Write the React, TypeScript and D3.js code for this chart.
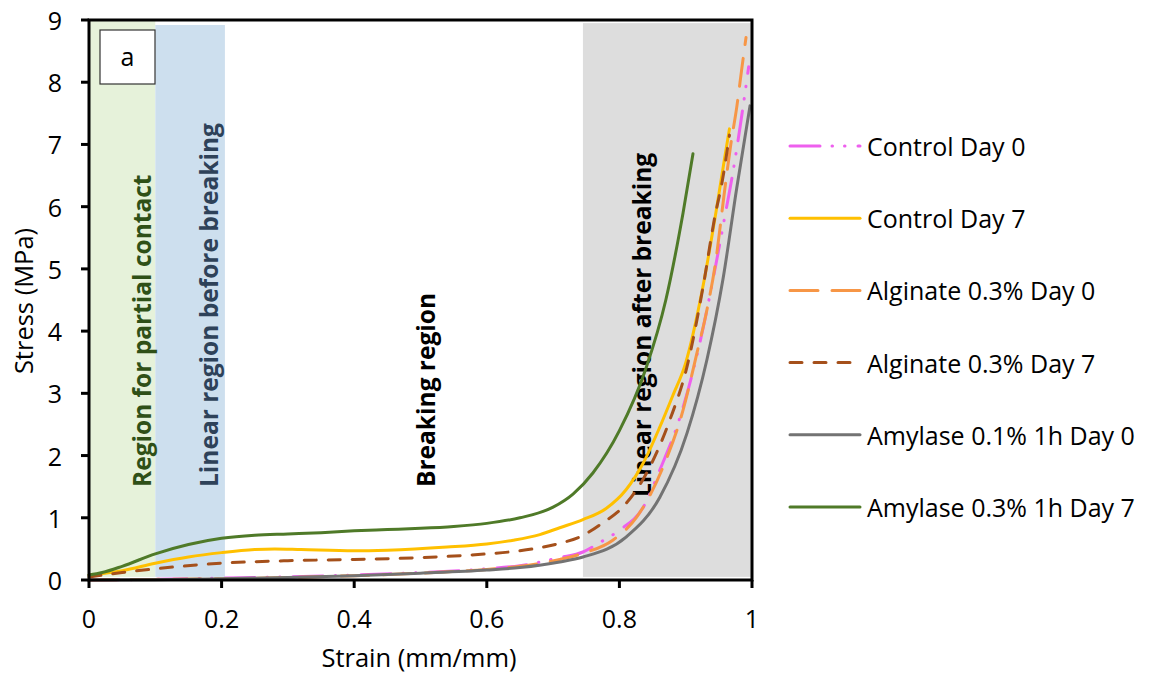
import React from 'react';
import * as d3 from 'd3';

// strain (mm/mm) / stress (MPa) readings per sample
const controlDay0 = [
  [0, 0], [0.1, 0.01], [0.2, 0.03], [0.3, 0.05], [0.4, 0.08], [0.5, 0.12], [0.6, 0.18],
  [0.65, 0.23], [0.71, 0.36], [0.745, 0.45], [0.77, 0.6], [0.8, 0.8], [0.836, 1.17],
  [0.861, 1.77], [0.89, 2.57], [0.92, 3.75], [0.941, 4.82], [0.959, 5.84], [0.971, 6.54],
  [0.982, 7.28], [0.995, 8.25],
];
const controlDay7 = [
  [0, 0.08], [0.05, 0.15], [0.1, 0.27], [0.15, 0.37], [0.2, 0.44], [0.25, 0.49], [0.28, 0.5],
  [0.32, 0.49], [0.4, 0.47], [0.45, 0.48], [0.54, 0.53], [0.6, 0.58], [0.64, 0.64],
  [0.68, 0.73], [0.71, 0.84], [0.745, 0.97], [0.78, 1.15], [0.81, 1.45], [0.836, 1.88],
  [0.861, 2.46], [0.88, 2.95], [0.9, 3.49], [0.925, 4.66], [0.947, 6.0], [0.959, 6.8],
  [0.966, 7.25],
];
const alginateDay0 = [
  [0, 0], [0.1, 0.01], [0.2, 0.02], [0.3, 0.04], [0.4, 0.07], [0.5, 0.11], [0.6, 0.17],
  [0.65, 0.22], [0.71, 0.33], [0.745, 0.43], [0.79, 0.64], [0.826, 1.01], [0.866, 1.82],
  [0.896, 2.73], [0.917, 3.65], [0.932, 4.34], [0.945, 5.1], [0.958, 6.2], [0.968, 7.0],
  [0.977, 7.6], [0.985, 8.25], [0.991, 8.72],
];
const alginateDay7 = [
  [0, 0.05], [0.05, 0.12], [0.1, 0.18], [0.2, 0.27], [0.3, 0.31], [0.4, 0.33], [0.5, 0.36],
  [0.6, 0.42], [0.65, 0.47], [0.71, 0.59], [0.74, 0.69], [0.775, 0.92], [0.805, 1.17],
  [0.846, 1.82], [0.876, 2.57], [0.902, 3.43], [0.926, 4.7], [0.944, 5.84], [0.955, 6.4],
  [0.966, 7.15],
];
const amylase01Day0 = [
  [0, 0], [0.1, 0.005], [0.2, 0.02], [0.3, 0.04], [0.4, 0.07], [0.5, 0.11], [0.6, 0.16],
  [0.65, 0.2], [0.71, 0.29], [0.745, 0.37], [0.81, 0.69], [0.861, 1.33], [0.902, 2.36],
  [0.932, 3.54], [0.956, 4.82], [0.977, 6.3], [0.997, 7.62],
];
const amylase03Day7 = [
  [0, 0.08], [0.02, 0.12], [0.05, 0.22], [0.1, 0.42], [0.15, 0.57], [0.2, 0.67], [0.25, 0.72],
  [0.3, 0.74], [0.35, 0.76], [0.4, 0.79], [0.45, 0.81], [0.5, 0.83], [0.55, 0.86], [0.6, 0.91],
  [0.65, 1.0], [0.7, 1.17], [0.73, 1.38], [0.76, 1.72], [0.8, 2.4], [0.84, 3.4], [0.87, 4.5],
  [0.896, 5.9], [0.911, 6.85],
];

const seriesNames = [
  'Control Day 0', 'Control Day 7', 'Alginate 0.3% Day 0',
  'Alginate 0.3% Day 7', 'Amylase 0.1% 1h Day 0', 'Amylase 0.3% 1h Day 7',
];
const seriesData = [controlDay0, controlDay7, alginateDay0, alginateDay7, amylase01Day0, amylase03Day7];

// shaded regions: [from strain, to strain, top stress]
const regionSpans = [[0, 0.1, 9], [0.1, 0.205, 8.92], [0.745, 1, 8.95]];
const regionLabels = [
  'Region for partial contact', 'Linear region before breaking',
  'Breaking region', 'Linear region after breaking',
];
const regionLabelX = [0.079, 0.18, 0.507, 0.833];

const xTicks = [0, 0.2, 0.4, 0.6, 0.8, 1];
const yTicks = [0, 1, 2, 3, 4, 5, 6, 7, 8, 9];

const seriesStyle = [
  { color: '#EE5FEE', dash: '30,12,0.5,12,0.5,13' },
  { color: '#FFC000', dash: null },
  { color: '#F79646', dash: '28,14' },
  { color: '#A5501B', dash: '12,12' },
  { color: '#737373', dash: null },
  { color: '#4F7A28', dash: null },
];
const regionFill = ['#E6F2DA', '#CDDFEE', '#DDDDDD'];
const regionText = ['#2F5017', '#2E4259', '#000000', '#000000'];

const FONT = '"Open Sans", sans-serif';

const App = () => {
  const width = 1151;
  const height = 675;
  const x = d3.scaleLinear().domain([0, 1]).range([89, 752]);
  const y = d3.scaleLinear().domain([0, 9]).range([580, 20]);

  const line = d3.line<number[]>()
    .x(d => x(d[0]))
    .y(d => y(d[1]))
    .curve(d3.curveMonotoneX);

  const legendX = 790;
  const legendY = (i: number) => 146 + i * 72.2;

  return (
    <svg width={width} height={height} style={{ position: 'absolute', left: 0, top: 0, background: '#fff' }}
      fontFamily={FONT}>
      {/* shaded regions */}
      {regionSpans.map((r, i) => (
        <rect key={i} x={x(r[0])} y={y(r[2])} width={x(r[1]) - x(r[0])}
          height={y(0.05) - y(r[2])} fill={regionFill[i]} />
      ))}

      {/* region labels */}
      {regionLabels.map((t, i) => (
        <text key={t} transform={`translate(${x(regionLabelX[i])},${i === 3 ? 497 : 487}) rotate(-90)`}
          fontSize={24.5} fontWeight="bold" fill={regionText[i]} dominantBaseline="central">{t}</text>
      ))}

      {/* series */}
      {seriesData.map((s, i) => (
        <path key={seriesNames[i]} d={line(s) ?? ''} fill="none" stroke={seriesStyle[i].color}
          strokeWidth={3} strokeLinecap="round" strokeLinejoin="round"
          strokeDasharray={seriesStyle[i].dash ?? undefined} />
      ))}

      {/* frame */}
      <rect x={x(0)} y={y(9)} width={x(1) - x(0)} height={y(0) - y(9)} fill="none" stroke="#000" strokeWidth={3} />

      {/* y axis */}
      {yTicks.map(t => (
        <g key={t}>
          <line x1={x(0) - 8} x2={x(0)} y1={y(t)} y2={y(t)} stroke="#000" strokeWidth={3} />
          <text x={62} y={y(t)} textAnchor="end" dominantBaseline="central" fontSize={25}>{t}</text>
        </g>
      ))}
      {/* x axis */}
      {xTicks.map(t => (
        <g key={t}>
          <line x1={x(t)} x2={x(t)} y1={y(0)} y2={y(0) + 8} stroke="#000" strokeWidth={3} />
          <text x={x(t)} y={618} textAnchor="middle" dominantBaseline="central" fontSize={25}>{t}</text>
        </g>
      ))}
      <text x={419} y={657} textAnchor="middle" dominantBaseline="central" fontSize={25.5}>Strain (mm/mm)</text>
      <text transform={`translate(23,301) rotate(-90)`} textAnchor="middle" dominantBaseline="central"
        fontSize={25.5}>Stress (MPa)</text>

      {/* panel label */}
      <rect x={100} y={30} width={55} height={54} fill="#fff" stroke="#333" strokeWidth={1.2} />
      <text x={127.5} y={56} textAnchor="middle" dominantBaseline="central" fontSize={25}>a</text>

      {/* legend */}
      {seriesNames.map((n, i) => (
        <g key={n}>
          <line x1={legendX} x2={legendX + 70} y1={legendY(i)} y2={legendY(i)} stroke={seriesStyle[i].color}
            strokeWidth={3} strokeLinecap="round" strokeDasharray={seriesStyle[i].dash ?? undefined} />
          <text x={legendX + 77} y={legendY(i)} dominantBaseline="central" fontSize={25}>{n}</text>
        </g>
      ))}
    </svg>
  );
};

export default App;
